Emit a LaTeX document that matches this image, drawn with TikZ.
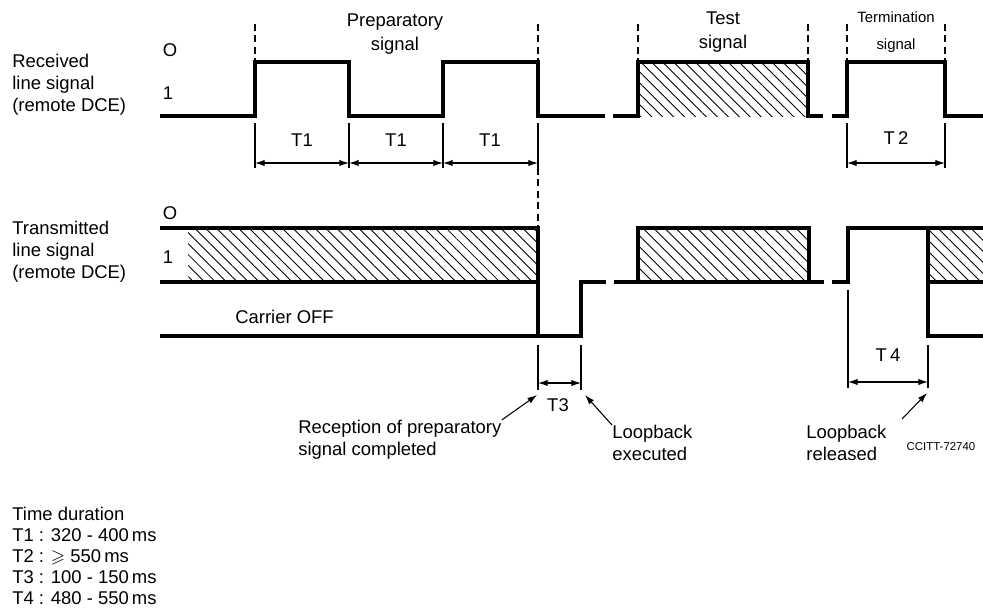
\documentclass[tikz,border=0pt]{standalone}
\usepackage{fontspec}
\setmainfont{Liberation Sans}
\usepackage{amssymb}
\usetikzlibrary{calc,arrows.meta,patterns.meta}

\begin{document}
\begin{tikzpicture}[x=0.02cm,y=-0.02cm,
  wave/.style={line width=1.8pt, line join=miter},
  hatch/.style={pattern={Lines[angle=-45,distance=4.4pt,line width=0.5pt]}},
  marker/.style={line width=0.6pt, dash pattern=on 4pt off 2.5pt},
  extline/.style={line width=0.6pt},
  dim/.style={line width=0.6pt, {Latex[length=5.5pt,width=3.6pt]}-{Latex[length=5.5pt,width=3.6pt]}},
  ptr/.style={line width=0.6pt, -{Latex[length=5.5pt,width=3.6pt]}},
  lbl/.style={font=\fontsize{10.5}{12.5}\selectfont, inner sep=0pt, align=left},
  small/.style={font=\fontsize{8.5}{15}\selectfont, inner sep=0pt, align=center}]

  \useasboundingbox (0,0) rectangle (983,613);

  % Define the signal levels
  \def\hiA{62}  \def\loA{116}
  \def\hiB{228} \def\loB{282} \def\offB{336}

  % Received line signal
  \path[hatch] (638,\hiA) rectangle (808,\loA);
  \draw[wave] (160,\loA) -- (255,\loA) -- (255,\hiA) -- (349,\hiA) -- (349,\loA)
    -- (443,\loA) -- (443,\hiA) -- (538,\hiA) -- (538,\loA) -- (605,\loA);
  \draw[wave] (613,\loA) -- (638,\loA) -- (638,\hiA) -- (808,\hiA) -- (808,\loA) -- (823,\loA);
  \draw[wave] (832,\loA) -- (847,\loA) -- (847,\hiA) -- (945,\hiA) -- (945,\loA) -- (983,\loA);

  % Transmitted line signal
  \path[hatch] (188,\hiB) rectangle (538,\loB);
  \path[hatch] (638,\hiB) rectangle (809,\loB);
  \path[hatch] (928,\hiB) rectangle (983,\loB);
  \draw[wave] (160,\hiB) -- (538,\hiB) -- (538,\offB) -- (581,\offB) -- (581,\loB) -- (606,\loB);
  \draw[wave] (160,\loB) -- (538,\loB);
  \draw[wave] (160,\offB) -- (538,\offB);
  \draw[wave] (614,\loB) -- (824,\loB);
  \draw[wave] (638,\loB) -- (638,\hiB) -- (809,\hiB) -- (809,\loB);
  \draw[wave] (832,\loB) -- (848,\loB) -- (848,\hiB) -- (983,\hiB);
  \draw[wave] (928,\loB) -- (983,\loB);
  \draw[wave] (928,\hiB) -- (928,\offB) -- (983,\offB);

  % Dashed phase markers
  \foreach \x in {255,538,638,808,847,945}
    \draw[marker] (\x,24) -- (\x,\hiA);
  \draw[marker] (538,168) -- (538,\hiB);

  % Extension lines
  \foreach \x in {255,349,443,538,847,945}
    \draw[extline] (\x,123) -- (\x,168);
  \foreach \x in {538,581}
    \draw[extline] (\x,345) -- (\x,390);
  \draw[extline] (848,290) -- (848,388);
  \draw[extline] (928,345) -- (928,388);

  % Dimension end points
  \foreach \n/\x in {a/255,b/349,c/443,d/538}
    \coordinate (T1\n) at (\x,163);
  \coordinate (T2a) at (847,163);  \coordinate (T2b) at (945,163);
  \coordinate (T3a) at (538,383);  \coordinate (T3b) at (581,383);
  \coordinate (T4a) at (848,382);  \coordinate (T4b) at (928,382);

  % Dimension arrows
  \draw[dim] (T1a) -- (T1b);
  \draw[dim] (T1b) -- (T1c);
  \draw[dim] (T1c) -- (T1d);
  \draw[dim] (T2a) -- (T2b);
  \draw[dim] (T3a) -- (T3b);
  \draw[dim] (T4a) -- (T4b);

  % Duration labels
  \node[lbl] (t1x) at (302,140) {T1};
  \node[lbl] (t1y) at (396,140) {T1};
  \node[lbl] (t1z) at (490,140) {T1};
  \node[lbl] (t2) at (896,138) {T\,2};
  \node[lbl] (t3) at (558,405) {T3};
  \node[lbl] (t4) at (888,355) {T\,4};

  % Signal names
  \node[lbl, anchor=west] (rx) at (12,85) {Received\\line signal\\(remote DCE)};
  \node[lbl, anchor=west] (tx) at (12,252) {Transmitted\\line signal\\(remote DCE)};
  \node[lbl] (rxO) at (170,50) {O};
  \node[lbl] (rx1) at (168,93) {1};
  \node[lbl] (txO) at (170,213) {O};
  \node[lbl] (tx1) at (168,257) {1};
  \node[lbl, anchor=west] (off) at (235,317) {Carrier OFF};

  % Phase names
  \node[lbl, align=center, font=\fontsize{10.5}{13.5}\selectfont] (prep) at (395,34) {Preparatory\\signal};
  \node[lbl, align=center, font=\fontsize{10.5}{13.5}\selectfont] (test) at (723,32) {Test\\signal};
  \node[small] (term) at (896,32) {Termination\\signal};

  % Event labels and pointers
  \node[lbl, anchor=north west] (recep) at (298,420) {Reception of preparatory\\signal completed};
  \node[lbl, anchor=north west] (exec) at (612,425) {Loopback\\executed};
  \node[lbl, anchor=north west] (rel) at (806,425) {Loopback\\released};
  \coordinate (relfoot) at (902,419);
  \coordinate (T3tipa) at (537,395);
  \coordinate (T3tipb) at (585,395);
  \coordinate (T4tip) at (927,393);
  \draw[ptr] (recep.north east) -- (T3tipa);
  \draw[ptr] (exec.north west) -- (T3tipb);
  \draw[ptr] (relfoot) -- (T4tip);

  \node[inner sep=0pt, font=\fontsize{6.5}{8}\selectfont] (ref) at (941,447) {CCITT-72740};

  % Time durations
  \node[lbl, anchor=west, font=\fontsize{10.5}{12}\selectfont] (legend) at (12,556)
    {Time duration\\T1 : 320 - 400\,ms\\T2 : $\geqslant$ 550\,ms\\T3 : 100 - 150\,ms\\T4 : 480 - 550\,ms};

\end{tikzpicture}
\end{document}
